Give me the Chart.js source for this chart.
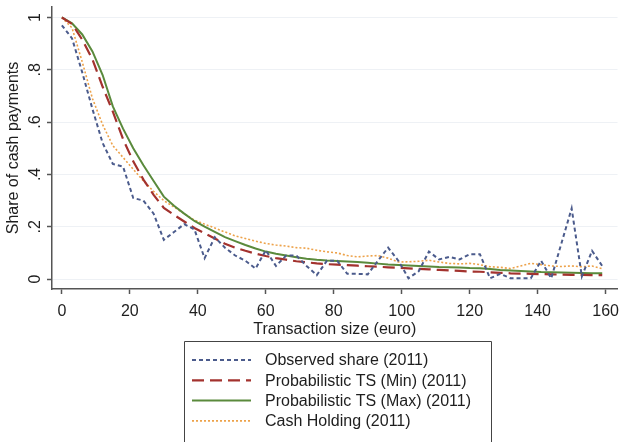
<!DOCTYPE html>
<html>
<head>
<meta charset="utf-8">
<script src="https://cdn.jsdelivr.net/npm/chart.js@4/dist/chart.umd.min.js"></script>
<style>
  html, body { margin: 0; padding: 0; background: #ffffff; }
  #wrap { width: 627px; height: 442px; }
</style>
</head>
<body>
<div id="wrap"><canvas id="c" width="627" height="442"></canvas></div>
<script>
// ---- data ----
const xValues = [0,3,6,9,12,15,18,21,24,27,30,33,36,39,42,45,48,51,54,57,60,63,66,69,72,75,78,81,84,87,90,93,96,99,102,105,108,111,114,117,120,123,126,129,132,135,138,141,144,147,150,153,156,159];

const observedShare = [0.97,0.92,0.79,0.65,0.52,0.44,0.43,0.31,0.30,0.25,0.15,0.18,0.21,0.19,0.08,0.16,0.12,0.09,0.07,0.04,0.11,0.05,0.09,0.09,0.05,0.015,0.07,0.07,0.02,0.02,0.018,0.07,0.12,0.07,0.003,0.03,0.105,0.075,0.085,0.075,0.095,0.095,0.003,0.02,0.003,0.003,0.003,0.07,0.003,0.137,0.27,0.01,0.108,0.05];

const tsMin = [1.0,0.975,0.915,0.84,0.735,0.64,0.535,0.45,0.38,0.322,0.272,0.245,0.22,0.195,0.175,0.155,0.135,0.12,0.108,0.097,0.088,0.08,0.074,0.068,0.064,0.06,0.057,0.055,0.053,0.051,0.049,0.047,0.045,0.043,0.041,0.039,0.037,0.035,0.033,0.031,0.029,0.028,0.026,0.024,0.022,0.021,0.02,0.019,0.018,0.017,0.016,0.016,0.015,0.015];

const tsMax = [1.0,0.978,0.935,0.87,0.78,0.66,0.575,0.5,0.435,0.375,0.315,0.28,0.25,0.222,0.2,0.18,0.16,0.145,0.13,0.117,0.105,0.097,0.09,0.083,0.078,0.074,0.071,0.069,0.067,0.065,0.062,0.059,0.056,0.054,0.052,0.05,0.048,0.046,0.045,0.044,0.042,0.041,0.038,0.035,0.033,0.031,0.029,0.027,0.026,0.025,0.024,0.023,0.022,0.022];

const cashHolding = [1.0,0.96,0.83,0.69,0.59,0.51,0.465,0.42,0.375,0.335,0.30,0.275,0.25,0.225,0.21,0.195,0.18,0.165,0.155,0.145,0.136,0.13,0.126,0.12,0.118,0.11,0.104,0.10,0.09,0.085,0.088,0.09,0.08,0.065,0.066,0.068,0.072,0.065,0.06,0.058,0.06,0.055,0.047,0.045,0.04,0.05,0.06,0.055,0.05,0.048,0.05,0.047,0.05,0.04];

const seriesLabels = ["Observed share (2011)","Probabilistic TS (Min) (2011)","Probabilistic TS (Max) (2011)","Cash Holding (2011)"];
const xTickLabels = ["0","20","40","60","80","100","120","140","160"];
const yTickLabels = ["0",".2",".4",".6",".8","1"];
const xTitle = "Transaction size (euro)";
const yTitle = "Share of cash payments";

// ---- build chart ----
const FAMILY = "'Liberation Sans', Arial, Helvetica, sans-serif";
const TEXT = "#1e1e1e";
const AXIS = "#555555";

function pts(ys) { return xValues.map((x, i) => ({ x: x, y: ys[i] })); }

const yTickLabelsPlugin = {
  id: 'yTickLabels',
  afterDraw(chart) {
    const s = chart.scales.y;
    const ctx = chart.ctx;
    ctx.save();
    ctx.fillStyle = TEXT;
    ctx.font = "16px " + FAMILY;
    ctx.textAlign = 'center';
    ctx.textBaseline = 'middle';
    s.ticks.forEach(t => {
      const idx = Math.round(t.value / 0.2);
      const lab = yTickLabels[idx];
      if (lab === undefined) return;
      const py = s.getPixelForValue(t.value);
      ctx.save();
      ctx.translate(36, py);
      ctx.rotate(-Math.PI / 2);
      ctx.fillText(lab, 0, 0);
      ctx.restore();
    });
    ctx.restore();
  }
};

const boxLegendPlugin = {
  id: 'boxLegend',
  afterDraw(chart) {
    const ctx = chart.ctx;
    const left = 184, right = 491, top = 341;
    ctx.save();
    ctx.strokeStyle = "#444";
    ctx.lineWidth = 1;
    ctx.beginPath();
    ctx.moveTo(left + 0.5, 460);
    ctx.lineTo(left + 0.5, top + 0.5);
    ctx.lineTo(right + 0.5, top + 0.5);
    ctx.lineTo(right + 0.5, 460);
    ctx.stroke();
    ctx.font = "16px " + FAMILY;
    ctx.textAlign = 'left';
    ctx.textBaseline = 'middle';
    chart.data.datasets.forEach((ds, i) => {
      const yy = 360 + i * 20.3;
      ctx.save();
      ctx.strokeStyle = ds.borderColor;
      ctx.lineWidth = ds.borderWidth;
      ctx.setLineDash(ds.borderDash || []);
      ctx.beginPath();
      ctx.moveTo(192, yy);
      ctx.lineTo(251, yy);
      ctx.stroke();
      ctx.restore();
      ctx.fillStyle = TEXT;
      ctx.fillText(ds.label, 265, yy + 1);
    });
    ctx.restore();
  }
};

new Chart(document.getElementById('c'), {
  type: 'line',
  data: {
    datasets: [
      { label: seriesLabels[0], data: pts(observedShare), borderColor: '#4b5b8c', borderWidth: 2, borderDash: [4, 3], pointRadius: 0, tension: 0, fill: false },
      { label: seriesLabels[1], data: pts(tsMin), borderColor: '#a3322e', borderWidth: 2.2, borderDash: [12, 6], pointRadius: 0, tension: 0, fill: false },
      { label: seriesLabels[2], data: pts(tsMax), borderColor: '#5a8a3c', borderWidth: 2, borderDash: [], pointRadius: 0, tension: 0, fill: false },
      { label: seriesLabels[3], data: pts(cashHolding), borderColor: '#eda24a', borderWidth: 1.6, borderDash: [2, 2], pointRadius: 0, tension: 0, fill: false }
    ]
  },
  options: {
    responsive: false,
    animation: false,
    devicePixelRatio: 1,
    layout: { padding: { left: 0, right: 1, top: 7, bottom: 103 } },
    plugins: { legend: { display: false }, tooltip: { enabled: false } },
    scales: {
      x: {
        type: 'linear',
        min: -2.9, max: 163.5,
        afterFit(s) { s.height = 50; },
        border: { color: AXIS, width: 1.5 },
        grid: { drawOnChartArea: false, drawTicks: true, tickLength: 5, tickColor: AXIS, tickWidth: 1.5 },
        ticks: {
          stepSize: 20, includeBounds: false, padding: 8, maxRotation: 0, autoSkip: false,
          color: TEXT, font: { size: 16, family: FAMILY },
          callback: v => { const i = Math.round(v / 20); return xTickLabels[i] !== undefined ? xTickLabels[i] : ''; }
        },
        title: { display: true, text: xTitle, color: TEXT, font: { size: 16, family: FAMILY }, padding: { top: 0, bottom: 0 } }
      },
      y: {
        type: 'linear',
        min: -0.038, max: 1.04,
        afterFit(s) { s.width = 52; },
        border: { color: AXIS, width: 1.5 },
        grid: { color: '#eef1f5', lineWidth: 1, drawTicks: true, tickLength: 5, tickColor: AXIS, tickWidth: 1.5 },
        ticks: { display: false, stepSize: 0.2, includeBounds: false },
        title: { display: true, text: yTitle, color: TEXT, font: { size: 16, family: FAMILY }, padding: { top: 4, bottom: 0 } }
      }
    }
  },
  plugins: [yTickLabelsPlugin, boxLegendPlugin]
});
</script>
</body>
</html>
